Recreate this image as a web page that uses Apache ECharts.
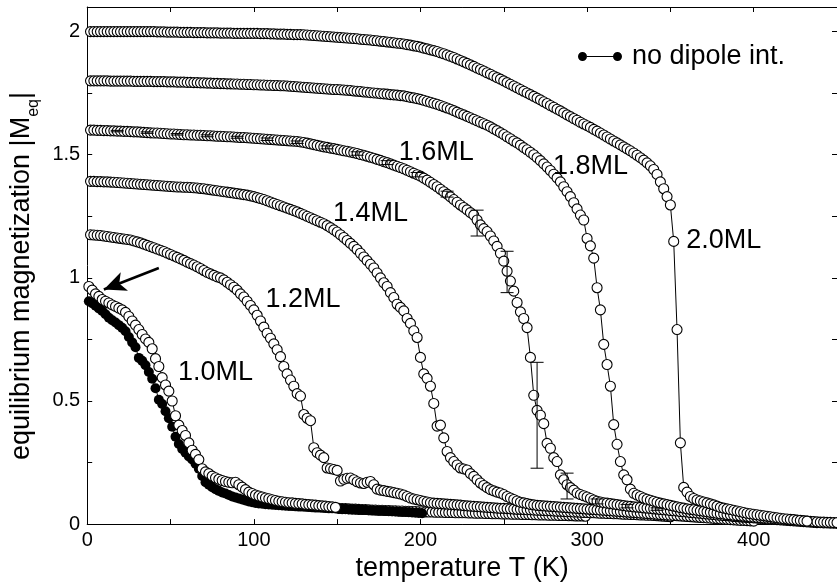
<!DOCTYPE html>
<html><head><meta charset="utf-8">
<script src="https://cdn.jsdelivr.net/npm/echarts@6/dist/echarts.min.js"></script>
<style>html,body{margin:0;padding:0;background:#fff}#c{width:837px;height:587px}</style>
</head><body><div id="c"></div>
<script>
const FONT = 'Liberation Sans, Arial, Helvetica, sans-serif';
const T_STEP = 2;

// 1.0ML (open circles), T = 1..149
const t10a = 1;
const m10a = [0.965,0.950,0.935,0.925,0.912,0.905,0.898,0.890,0.884,0.877,
0.870,0.860,0.843,0.825,0.808,0.790,0.770,0.752,0.738,0.712,
0.672,0.640,0.595,0.565,0.540,0.500,0.440,0.402,0.380,0.360,
0.330,0.300,0.283,0.262,0.225,0.212,0.205,0.195,0.188,0.182,
0.177,0.173,0.170,0.168,0.170,0.160,0.150,0.140,0.130,0.124,
0.118,0.114,0.110,0.106,0.103,0.099,0.096,0.093,0.091,0.089,
0.087,0.086,0.084,0.083,0.082,0.080,0.079,0.078,0.077,0.075,
0.074,0.073,0.071,0.070,0.068];
// 1.0ML tail, T = 151..299
const t10b = 151;
const m10b = [0.064,0.063,0.063,0.062,0.061,0.061,0.060,0.059,0.059,0.058,
0.057,0.057,0.056,0.056,0.055,0.055,0.054,0.054,0.053,0.053,
0.052,0.052,0.051,0.051,0.050,0.050,0.049,0.049,0.049,0.048,
0.048,0.048,0.047,0.047,0.047,0.046,0.046,0.046,0.046,0.045,
0.045,0.044,0.044,0.044,0.043,0.043,0.042,0.042,0.042,0.041,
0.041,0.041,0.040,0.040,0.040,0.039,0.039,0.039,0.038,0.038,
0.037,0.037,0.037,0.036,0.036,0.036,0.035,0.035,0.035,0.034,
0.034,0.033,0.033,0.033,0.032];
// no dipole interaction (filled), T = 1..201
const tNoDip = 1;
const mNoDip = [0.905,0.897,0.887,0.876,0.866,0.852,0.838,0.828,0.819,0.808,
0.797,0.783,0.760,0.738,0.718,0.675,0.663,0.645,0.618,0.590,
0.552,0.505,0.488,0.458,0.430,0.395,0.355,0.325,0.305,0.290,
0.275,0.262,0.245,0.225,0.195,0.170,0.160,0.150,0.142,0.135,
0.128,0.124,0.118,0.112,0.108,0.104,0.100,0.096,0.092,0.089,
0.086,0.084,0.083,0.081,0.080,0.079,0.078,0.077,0.076,0.075,
0.074,0.073,0.072,0.071,0.071,0.070,0.069,0.068,0.067,0.067,
0.066,0.065,0.064,0.064,0.063,0.062,0.062,0.061,0.060,0.060,
0.059,0.058,0.058,0.057,0.056,0.056,0.055,0.054,0.054,0.053,
0.052,0.052,0.051,0.050,0.049,0.049,0.048,0.047,0.046,0.045,
0.044];
// 1.2ML, T = 2..350
const t12 = 2;
const m12 = [1.175,1.174,1.173,1.172,1.170,1.168,1.166,1.164,1.162,1.160,
1.158,1.156,1.154,1.150,1.146,1.142,1.137,1.132,1.127,1.122,
1.117,1.112,1.107,1.101,1.095,1.089,1.083,1.077,1.071,1.064,
1.058,1.052,1.045,1.038,1.030,1.022,1.016,1.010,1.004,1.000,
0.992,0.982,0.972,0.962,0.950,0.935,0.922,0.905,0.888,0.870,
0.848,0.825,0.800,0.775,0.755,0.732,0.708,0.680,0.640,0.610,
0.585,0.560,0.530,0.520,0.445,0.430,0.420,0.310,0.290,0.280,
0.270,0.228,0.225,0.222,0.218,0.175,0.182,0.186,0.187,0.180,
0.172,0.167,0.165,0.170,0.173,0.160,0.142,0.138,0.136,0.133,
0.131,0.128,0.125,0.122,0.118,0.112,0.106,0.102,0.099,0.096,
0.093,0.090,0.087,0.085,0.084,0.083,0.082,0.081,0.080,0.079,
0.078,0.077,0.075,0.074,0.073,0.072,0.071,0.070,0.069,0.068,
0.067,0.066,0.065,0.064,0.064,0.063,0.062,0.061,0.060,0.060,
0.059,0.058,0.058,0.057,0.056,0.056,0.055,0.054,0.054,0.053,
0.052,0.052,0.051,0.050,0.050,0.049,0.049,0.048,0.047,0.047,
0.046,0.046,0.045,0.044,0.044,0.043,0.043,0.042,0.042,0.041,
0.040,0.040,0.039,0.039,0.038,0.037,0.037,0.036,0.036,0.035,
0.034,0.033,0.032,0.031,0.030];
// 1.4ML, T = 2..400
const t14 = 2;
const m14 = [1.392,1.392,1.391,1.391,1.390,1.390,1.389,1.388,1.387,1.386,
1.385,1.384,1.383,1.382,1.381,1.380,1.379,1.378,1.377,1.376,
1.375,1.374,1.373,1.372,1.371,1.370,1.369,1.369,1.368,1.368,
1.367,1.366,1.365,1.363,1.362,1.360,1.358,1.356,1.354,1.352,
1.350,1.348,1.346,1.344,1.342,1.340,1.338,1.336,1.333,1.330,
1.326,1.322,1.318,1.313,1.308,1.303,1.298,1.293,1.288,1.283,
1.278,1.273,1.268,1.262,1.256,1.250,1.244,1.238,1.232,1.226,
1.220,1.212,1.204,1.195,1.186,1.175,1.164,1.152,1.140,1.128,
1.115,1.100,1.085,1.070,1.055,1.040,1.020,1.000,0.980,0.965,
0.940,0.920,0.893,0.880,0.866,0.835,0.815,0.785,0.758,0.677,
0.610,0.592,0.560,0.490,0.398,0.402,0.350,0.295,0.270,0.254,
0.240,0.228,0.224,0.220,0.205,0.194,0.180,0.167,0.157,0.148,
0.140,0.135,0.130,0.126,0.120,0.112,0.106,0.100,0.094,0.089,
0.086,0.083,0.080,0.078,0.076,0.075,0.074,0.073,0.072,0.071,
0.070,0.069,0.068,0.067,0.066,0.065,0.064,0.063,0.062,0.061,
0.060,0.059,0.058,0.057,0.056,0.055,0.054,0.053,0.052,0.051,
0.050,0.049,0.048,0.047,0.046,0.045,0.044,0.043,0.042,0.041,
0.040,0.039,0.038,0.037,0.036,0.035,0.034,0.033,0.032,0.031,
0.030,0.029,0.028,0.027,0.026,0.025,0.024,0.023,0.022,0.021,
0.020,0.019,0.018,0.017,0.016,0.015,0.015,0.014,0.013,0.012];
// 1.6ML, T = 2..450
const t16 = 2;
const m16 = [1.600,1.600,1.599,1.599,1.598,1.598,1.597,1.597,1.596,1.596,
1.595,1.595,1.594,1.593,1.593,1.592,1.591,1.590,1.589,1.588,
1.588,1.587,1.586,1.585,1.584,1.584,1.583,1.582,1.581,1.581,
1.580,1.580,1.579,1.579,1.578,1.577,1.577,1.576,1.575,1.575,
1.574,1.573,1.573,1.572,1.571,1.570,1.570,1.569,1.568,1.567,
1.566,1.565,1.564,1.563,1.562,1.561,1.560,1.559,1.558,1.557,
1.556,1.555,1.554,1.552,1.550,1.547,1.544,1.541,1.538,1.535,
1.532,1.530,1.527,1.525,1.522,1.519,1.516,1.514,1.511,1.508,
1.505,1.501,1.498,1.494,1.490,1.486,1.481,1.477,1.472,1.468,
1.463,1.458,1.453,1.448,1.443,1.437,1.431,1.425,1.419,1.413,
1.405,1.397,1.388,1.379,1.370,1.360,1.350,1.340,1.329,1.318,
1.307,1.296,1.286,1.276,1.265,1.255,1.235,1.215,1.200,1.188,
1.170,1.150,1.128,1.100,1.068,1.027,0.987,0.946,0.900,0.862,
0.835,0.798,0.677,0.523,0.462,0.442,0.408,0.328,0.308,0.270,
0.254,0.200,0.180,0.160,0.148,0.138,0.126,0.120,0.115,0.110,
0.104,0.098,0.093,0.090,0.087,0.085,0.083,0.081,0.079,0.077,
0.075,0.073,0.072,0.070,0.069,0.068,0.066,0.065,0.064,0.062,
0.061,0.059,0.058,0.057,0.055,0.054,0.053,0.051,0.050,0.049,
0.047,0.046,0.045,0.044,0.042,0.041,0.040,0.039,0.037,0.036,
0.035,0.034,0.033,0.031,0.030,0.029,0.028,0.027,0.026,0.025,
0.024,0.023,0.022,0.021,0.020,0.019,0.018,0.017,0.016,0.015,
0.014,0.013,0.012,0.011,0.010,0.009,0.008,0.007,0.006,0.006,
0.005,0.005,0.004,0.004,0.003];
// 1.8ML, T = 2..450
const t18 = 2;
const m18 = [1.800,1.800,1.800,1.800,1.800,1.800,1.799,1.799,1.799,1.799,
1.799,1.799,1.799,1.798,1.798,1.798,1.798,1.798,1.798,1.797,
1.797,1.797,1.797,1.796,1.796,1.796,1.795,1.795,1.795,1.794,
1.794,1.793,1.793,1.792,1.792,1.791,1.791,1.790,1.790,1.789,
1.789,1.788,1.788,1.787,1.787,1.786,1.786,1.785,1.785,1.784,
1.784,1.783,1.783,1.782,1.782,1.781,1.781,1.780,1.780,1.779,
1.778,1.777,1.776,1.775,1.774,1.773,1.772,1.771,1.770,1.769,
1.768,1.767,1.766,1.765,1.765,1.764,1.763,1.762,1.761,1.759,
1.758,1.757,1.755,1.754,1.752,1.751,1.750,1.748,1.747,1.746,
1.744,1.743,1.742,1.740,1.739,1.736,1.733,1.731,1.728,1.725,
1.721,1.717,1.713,1.709,1.705,1.700,1.695,1.690,1.685,1.679,
1.673,1.667,1.662,1.656,1.650,1.644,1.638,1.632,1.626,1.620,
1.613,1.605,1.598,1.590,1.582,1.573,1.565,1.556,1.548,1.539,
1.529,1.520,1.510,1.500,1.488,1.476,1.463,1.450,1.436,1.421,
1.406,1.390,1.370,1.350,1.330,1.305,1.280,1.255,1.235,1.160,
1.130,1.080,0.960,0.870,0.730,0.648,0.560,0.404,0.324,0.254,
0.200,0.180,0.142,0.125,0.118,0.112,0.106,0.101,0.097,0.093,
0.089,0.085,0.082,0.079,0.076,0.073,0.070,0.067,0.065,0.062,
0.060,0.058,0.056,0.054,0.052,0.050,0.048,0.046,0.044,0.042,
0.041,0.039,0.038,0.036,0.035,0.033,0.032,0.031,0.029,0.028,
0.027,0.026,0.025,0.024,0.023,0.022,0.021,0.020,0.019,0.018,
0.017,0.016,0.015,0.014,0.013,0.012,0.011,0.010,0.009,0.008,
0.008,0.007,0.007,0.006,0.006];
// 2.0ML, T = 2..432
const t20 = 2;
const m20 = [2.000,2.000,2.000,2.000,2.000,2.000,2.000,2.000,2.000,2.000,
2.000,2.000,2.000,2.000,2.000,2.000,2.000,2.000,2.000,2.000,
1.999,1.999,1.999,1.998,1.998,1.998,1.998,1.997,1.997,1.997,
1.997,1.996,1.996,1.996,1.996,1.995,1.995,1.995,1.995,1.994,
1.994,1.994,1.994,1.993,1.993,1.993,1.993,1.993,1.993,1.993,
1.993,1.992,1.992,1.992,1.991,1.991,1.990,1.990,1.990,1.989,
1.989,1.988,1.988,1.988,1.987,1.986,1.985,1.984,1.983,1.982,
1.981,1.980,1.979,1.978,1.977,1.976,1.975,1.974,1.973,1.972,
1.971,1.969,1.968,1.967,1.966,1.964,1.963,1.961,1.960,1.958,
1.957,1.955,1.953,1.952,1.950,1.947,1.945,1.942,1.940,1.937,
1.933,1.930,1.926,1.923,1.919,1.914,1.910,1.905,1.900,1.895,
1.889,1.883,1.877,1.871,1.865,1.859,1.852,1.846,1.840,1.833,
1.827,1.820,1.813,1.807,1.800,1.793,1.786,1.779,1.772,1.765,
1.758,1.751,1.744,1.737,1.730,1.723,1.715,1.708,1.700,1.693,
1.685,1.678,1.670,1.662,1.655,1.647,1.640,1.632,1.625,1.618,
1.611,1.603,1.596,1.588,1.580,1.572,1.564,1.556,1.548,1.540,
1.532,1.524,1.516,1.507,1.498,1.488,1.478,1.467,1.455,1.440,
1.420,1.390,1.362,1.330,1.296,1.148,0.790,0.330,0.149,0.130,
0.112,0.104,0.098,0.094,0.090,0.086,0.082,0.078,0.073,0.068,
0.065,0.062,0.059,0.056,0.053,0.050,0.047,0.044,0.042,0.040,
0.038,0.036,0.034,0.032,0.030,0.028,0.026,0.024,0.022,0.021,
0.019,0.018,0.016,0.015,0.013,0.012];

// error bars on 1.6ML
const errT    = [18,36,54,72,90,108,126,144,162,180,198,216,234,252,270,288,306,324,342];
const errLow  = [1.593,1.587,1.580,1.573,1.567,1.558,1.546,1.524,1.498,1.460,1.410,1.328,1.170,0.940,0.227,0.102,0.082,0.066,0.056];
const errHigh = [1.599,1.593,1.586,1.581,1.575,1.568,1.556,1.536,1.512,1.476,1.428,1.352,1.275,1.108,0.657,0.207,0.102,0.080,0.066];

// curve labels (left edge T, centre M)
const labelNames = ['1.0ML','1.2ML','1.4ML','1.6ML','1.8ML','2.0ML'];
const labelT = [54.5, 107, 147.5, 187, 279.5, 359.5];
const labelM = [0.617, 0.912, 1.262, 1.508, 1.454, 1.151];

// annotation arrow (from, to) in data coords
const arrowFrom = [43, 1.04];
const arrowTo = [10, 0.953];

const pts = (start, vals) => vals.map((v, i) => [start + T_STEP * i, v]);

function openSeries(name, data) {
  return {
    type: 'line', name, data, symbol: 'circle', symbolSize: 10,
    itemStyle: { color: '#fff', borderColor: '#000', borderWidth: 1.1, opacity: 1 },
    lineStyle: { color: '#000', width: 1 },
    emphasis: { disabled: true }, silent: true, animation: false
  };
}

const LEGEND_ICON = 'path://M0,4.5a4.5,4.5 0 1,0 9,0a4.5,4.5 0 1,0 -9,0zM35,4.5a4.5,4.5 0 1,0 9,0a4.5,4.5 0 1,0 -9,0zM9,4H35V5H9z';

const axisCommon = {
  axisLine: { show: true, onZero: false, lineStyle: { color: '#000', width: 1 } },
  axisTick: { show: true, inside: true, length: 5, lineStyle: { color: '#000', width: 1 } },
  splitLine: { show: false }
};

const chart = echarts.init(document.getElementById('c'), null, { renderer: 'canvas' });
chart.setOption({
  animation: false,
  backgroundColor: '#fff',
  grid: { left: 83, top: 7, width: 756, height: 521, containLabel: false },
  legend: {
    data: [{ name: 'no dipole int.', icon: LEGEND_ICON }],
    left: 578, top: 43, padding: 0, itemWidth: 44, itemHeight: 9,
    selectedMode: false,
    textStyle: { fontSize: 27, color: '#000', fontFamily: FONT, padding: [0, 0, 0, 5] }
  },
  xAxis: [
    Object.assign({
      type: 'value', min: 0, max: 450, interval: 50, position: 'bottom',
      axisLabel: { formatter: v => (v % 100 === 0 ? String(v) : ''), color: '#000', fontSize: 20, fontFamily: FONT, margin: 6, showMaxLabel: false },
      name: 'temperature T (K)', nameLocation: 'middle', nameGap: 22,
      nameTextStyle: { fontSize: 27, color: '#000', fontFamily: FONT }
    }, axisCommon),
    Object.assign({
      type: 'value', min: 0, max: 450, interval: 50, position: 'top',
      axisLabel: { show: false }
    }, axisCommon)
  ],
  yAxis: [
    Object.assign({
      type: 'value', min: 0, max: 2.1, interval: 0.25, position: 'left',
      axisLabel: {
        formatter: v => { const d = v * 2; return Math.abs(d - Math.round(d)) < 1e-9 ? String(+v.toFixed(2)) : ''; },
        color: '#000', fontSize: 20, fontFamily: FONT, margin: 7, showMaxLabel: false
      },
      name: '{m|equilibrium magnetization |M}{s|eq}{m||}', nameLocation: 'middle', nameRotate: 90, nameGap: 41,
      nameTextStyle: {
        color: '#000', fontFamily: FONT, fontSize: 27, padding: [0, 21, 0, 0],
        rich: {
          m: { fontSize: 27, fontFamily: FONT, color: '#000', verticalAlign: 'middle' },
          s: { fontSize: 16, fontFamily: FONT, color: '#000', verticalAlign: 'bottom', padding: [24, 0, 0, 0] }
        }
      }
    }, axisCommon),
    Object.assign({
      type: 'value', min: 0, max: 2.1, interval: 0.25, position: 'right',
      axisLabel: { show: false }
    }, axisCommon)
  ],
  series: [
    openSeries('1.0ML', pts(t10b, m10b)),
    {
      type: 'line', name: 'no dipole int.', data: pts(tNoDip, mNoDip),
      symbol: 'circle', symbolSize: 10,
      itemStyle: { color: '#000', borderColor: '#000', borderWidth: 0, opacity: 1 },
      lineStyle: { color: '#000', width: 1 },
      emphasis: { disabled: true }, silent: true, animation: false,
      markLine: {
        silent: true, animation: false, symbol: ['none', 'arrow'], symbolSize: [15, 22],
        lineStyle: { color: '#000', width: 2.6, type: 'solid', opacity: 1 },
        label: { show: false }, emphasis: { disabled: true },
        data: [[{ coord: arrowFrom }, { coord: arrowTo }]]
      }
    },
    openSeries('1.0ML', pts(t10a, m10a)),
    openSeries('1.2ML', pts(t12, m12)),
    openSeries('1.4ML', pts(t14, m14)),
    openSeries('1.6ML', pts(t16, m16)),
    openSeries('1.8ML', pts(t18, m18)),
    openSeries('2.0ML', pts(t20, m20)),
    {
      type: 'custom', name: 'error', silent: true, z: 5,
      data: errT.map((t, i) => [t, errLow[i], errHigh[i]]),
      encode: { x: 0, y: [1, 2] },
      renderItem: (params, api) => {
        const t = api.value(0);
        const lo = api.coord([t, api.value(1)]);
        const hi = api.coord([t, api.value(2)]);
        const w = 6.5;
        const st = { stroke: '#000', lineWidth: 1 };
        return { type: 'group', children: [
          { type: 'line', shape: { x1: lo[0], y1: lo[1], x2: hi[0], y2: hi[1] }, style: st },
          { type: 'line', shape: { x1: lo[0] - w, y1: lo[1], x2: lo[0] + w, y2: lo[1] }, style: st },
          { type: 'line', shape: { x1: hi[0] - w, y1: hi[1], x2: hi[0] + w, y2: hi[1] }, style: st }
        ] };
      }
    },
    {
      type: 'scatter', name: 'labels', silent: true, z: 6, symbolSize: 0,
      itemStyle: { opacity: 1 },
      data: labelNames.map((n, i) => [labelT[i], labelM[i], n]),
      label: { show: true, position: 'right', distance: 0, formatter: p => p.value[2],
        fontSize: 27, color: '#000', opacity: 1, textBorderWidth: 0, fontFamily: FONT }
    }
  ]
});
</script></body></html>
